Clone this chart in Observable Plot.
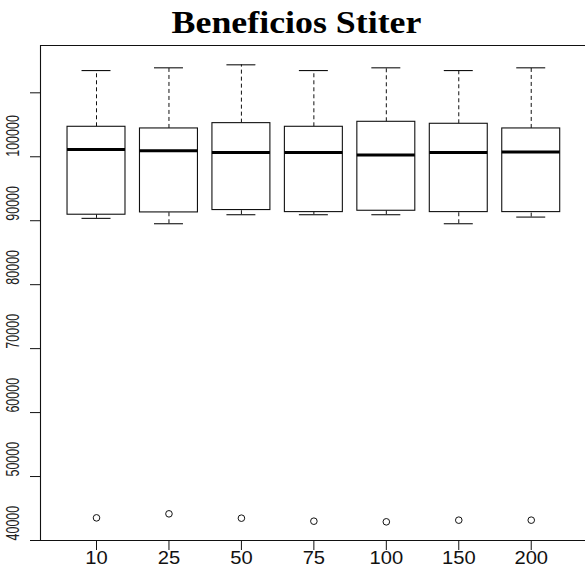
<!DOCTYPE html>
<html>
<head>
<meta charset="utf-8">
<script src="https://cdn.jsdelivr.net/npm/d3@7"></script>
<script src="https://cdn.jsdelivr.net/npm/@observablehq/plot@0.6"></script>
<style>
  html, body { margin: 0; padding: 0; background: #fff; overflow: hidden; }
  #wrap { width: 585px; height: 574px; position: relative; }
  #title {
    width: 585px; height: 40px; box-sizing: border-box;
    padding-top: 6px; padding-left: 9px;
    text-align: center; line-height: 32px;
    font-family: "Liberation Serif", "Times New Roman", serif;
    font-weight: bold; font-size: 32px; color: #000;
  }
  #title span { display: inline-block; transform: scaleX(1.12); }
  svg { display: block; }
</style>
</head>
<body>
<div id="wrap">
  <div id="title"><span>Beneficios Stiter</span></div>
  <div id="chart"></div>
</div>
<script>
// Iteration counts on the x axis
const categories = ["10", "25", "50", "75", "100", "150", "200"];
// Five-number summaries of the profit per iteration count
const lowerWhisker = [90370, 89530, 90940, 90940, 90940, 89530, 90570];
const q1           = [90940, 91300, 91670, 91350, 91560, 91350, 91350];
const median       = [101150, 100940, 100680, 100680, 100260, 100680, 100730];
const q3           = [104690, 104430, 105260, 104690, 105470, 105160, 104430];
const upperWhisker = [113480, 113910, 114380, 113480, 113910, 113480, 113910];
// One low outlier per group
const outliers     = [43540, 44170, 43490, 43020, 42920, 43180, 43180];

// Axis ticks
const yTicks = [40000, 50000, 60000, 70000, 80000, 90000, 100000, 110000];
const yTickLabels = [40000, 50000, 60000, 70000, 80000, 90000, 100000];
const yMin = 40000, yMax = 117400;

const boxes = categories.map((c, i) => ({
  cat: c, pos: i + 1,
  lo: lowerWhisker[i], q1: q1[i], med: median[i], q3: q3[i], hi: upperWhisker[i],
  out: outliers[i]
}));

const font = "'Liberation Sans', Arial, Helvetica, sans-serif";

const chart = Plot.plot({
  width: 585,
  height: 534,
  marginTop: 5,
  marginBottom: 34,
  marginLeft: 40,
  marginRight: 0,
  style: { fontFamily: font, background: "white", overflow: "visible" },
  x: { type: "linear", domain: [0.227, 7.749], axis: null },
  y: { domain: [yMin, yMax], axis: null },
  marks: [
    // plot frame (left, top, bottom)
    Plot.ruleY([yMin, yMax], { stroke: "#111", strokeWidth: 1.1 }),
    Plot.ruleX([0.227], { stroke: "#111", strokeWidth: 1.1 }),
    // ticks
    Plot.axisY({ ticks: yTicks, tickSize: 10, tickFormat: () => "", label: null, stroke: "#111" }),
    Plot.axisX({ ticks: categories.map((_, i) => i + 1), tickSize: 10, tickFormat: () => "", label: null, stroke: "#111" }),
    // y tick labels, vertical
    Plot.text(yTickLabels, {
      y: d => d, text: d => String(d), frameAnchor: "left", dx: -27,
      rotate: -90, fontSize: 12.5, fill: "#222", className: "ylab"
    }),
    // x tick labels
    Plot.text(categories, {
      x: (d, i) => i + 1, text: d => d, frameAnchor: "bottom", dy: 23,
      fontSize: 18, fill: "#111", className: "xlab"
    }),
    // whiskers
    Plot.ruleX(boxes, { x: "pos", y1: "q3", y2: "hi", stroke: "#111", strokeDasharray: "4,3" }),
    Plot.ruleX(boxes, { x: "pos", y1: "lo", y2: "q1", stroke: "#111", strokeDasharray: "4,3" }),
    // whisker caps
    Plot.ruleY(boxes, { y: "hi", x1: d => d.pos - 0.2, x2: d => d.pos + 0.2, stroke: "#111", strokeWidth: 1.1 }),
    Plot.ruleY(boxes, { y: "lo", x1: d => d.pos - 0.2, x2: d => d.pos + 0.2, stroke: "#111", strokeWidth: 1.1 }),
    // boxes
    Plot.rect(boxes, {
      x1: d => d.pos - 0.4, x2: d => d.pos + 0.4, y1: "q1", y2: "q3",
      fill: "white", stroke: "#111", strokeWidth: 1.1
    }),
    // medians
    Plot.ruleY(boxes, { y: "med", x1: d => d.pos - 0.4, x2: d => d.pos + 0.4, stroke: "#000", strokeWidth: 3 }),
    // outliers
    Plot.dot(boxes, { x: "pos", y: "out", r: 3.3, stroke: "#111", fill: "none", strokeWidth: 1 })
  ]
});

// widen the tick label glyphs
chart.querySelectorAll(".ylab text").forEach(t => {
  t.setAttribute("transform", (t.getAttribute("transform") || "") + " scale(1,1.45)");
});
chart.querySelectorAll(".xlab text").forEach(t => {
  t.setAttribute("transform", (t.getAttribute("transform") || "") + " scale(1.12,1)");
});

document.getElementById("chart").appendChild(chart);
</script>
</body>
</html>
